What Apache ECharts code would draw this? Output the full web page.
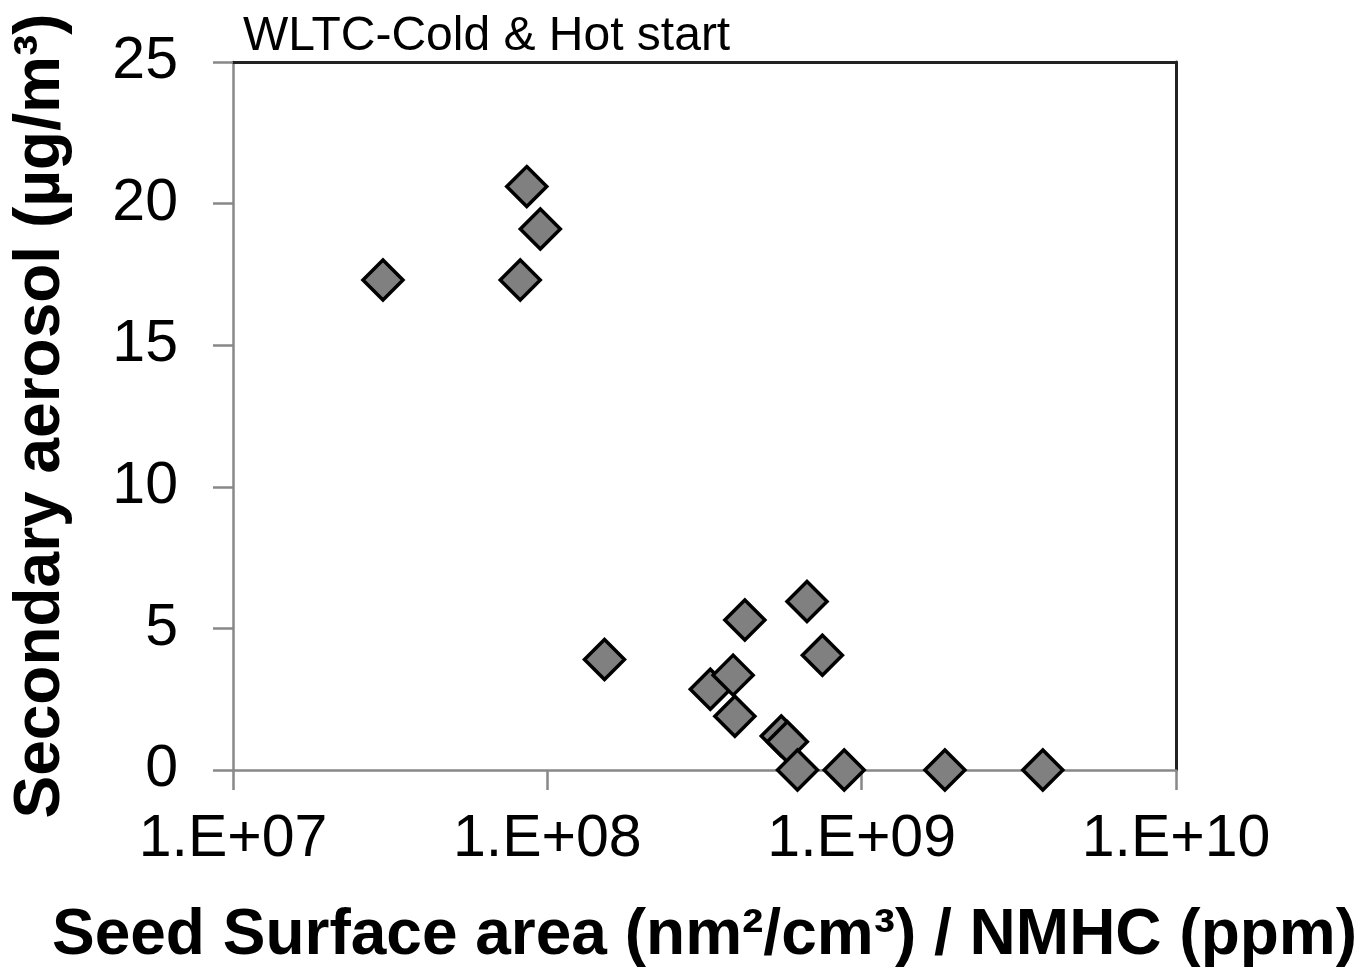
<!DOCTYPE html>
<html>
<head>
<meta charset="utf-8">
<script src="https://cdn.jsdelivr.net/npm/echarts@6/dist/echarts.min.js"></script>
<style>
  html, body { margin: 0; padding: 0; background: #fff; }
  #chart { width: 1364px; height: 970px; }
</style>
</head>
<body>
<div id="chart"></div>
<script>
// seed surface area / NMHC (nm2/cm3 per ppm) and secondary aerosol (ug/m3)
const seedRatio = [3.0e7, 8.6e7, 9.5e7, 8.2e7, 1.52e8, 3.3e8, 3.9e8, 3.95e8, 4.25e8,
  5.55e8, 5.8e8, 6.25e8, 6.7e8, 7.5e8, 8.8e8, 1.84e9, 3.77e9];
const aerosol = [17.3, 20.6, 19.1, 17.3, 3.9, 2.85, 3.35, 1.9, 5.3,
  1.2, 1.0, 0.0, 5.95, 4.05, 0.0, 0.0, 0.0];
const yTicks = [0, 5, 10, 15, 20, 25];

const font = 'Liberation Sans, Arial, sans-serif';
const gray = '#888';

const chart = echarts.init(document.getElementById('chart'));

function sciLabel(v) {
  const e = Math.round(Math.log10(v));
  return '1.E+' + (e < 10 ? '0' + e : e);
}

const option = {
  backgroundColor: '#fff',
  animation: false,
  title: {
    text: 'WLTC-Cold & Hot start',
    left: 238,
    top: 8,
    textStyle: { fontFamily: font, fontSize: 48, fontWeight: 'normal', color: '#000' }
  },
  grid: { left: 233, right: 188, top: 62, bottom: 200, outerBoundsMode: 'none', containLabel: false },
  xAxis: [{
    type: 'log',
    logBase: 10,
    min: 1e7,
    max: 1e10,
    name: 'Seed Surface area (nm²/cm³) / NMHC (ppm)',
    nameLocation: 'middle',
    nameGap: 134,
    nameTextStyle: { fontFamily: font, fontSize: 64, fontWeight: 'bold', color: '#000' },
    axisLine: { onZero: false, lineStyle: { color: gray, width: 2.5 } },
    axisTick: { show: true, length: 20, lineStyle: { color: gray, width: 2.5 } },
    minorTick: { show: false },
    splitLine: { show: false },
    axisLabel: {
      fontFamily: font, fontSize: 59, color: '#000', margin: 40,
      formatter: sciLabel
    }
  }, {
    type: 'log', logBase: 10, min: 1e7, max: 1e10, position: 'top',
    axisLine: { show: true, onZero: false, lineStyle: { color: '#222', width: 3 } },
    axisTick: { show: false }, axisLabel: { show: false }, splitLine: { show: false }
  }],
  yAxis: [{
    type: 'value',
    min: yTicks[0],
    max: yTicks[yTicks.length - 1],
    interval: 5,
    name: 'Secondary aerosol (µg/m³)',
    nameLocation: 'middle',
    nameGap: 160,
    nameTextStyle: { fontFamily: font, fontSize: 64, fontWeight: 'bold', color: '#000' },
    axisLine: { show: true, onZero: false, lineStyle: { color: gray, width: 2.5 } },
    axisTick: { show: true, length: 20, lineStyle: { color: gray, width: 2.5 } },
    splitLine: { show: false },
    axisLabel: { fontFamily: font, fontSize: 59, color: '#000', margin: 55 }
  }, {
    type: 'value', min: 0, max: 25, position: 'right',
    axisLine: { show: true, onZero: false, lineStyle: { color: '#222', width: 3 } },
    axisTick: { show: false }, axisLabel: { show: false }, splitLine: { show: false }
  }],
  series: [{
    type: 'scatter',
    symbol: 'diamond',
    symbolSize: 40,
    itemStyle: { color: '#808080', borderColor: '#000', borderWidth: 3.5, opacity: 1 },
    data: seedRatio.map((x, i) => [x, aerosol[i]]),
    z: 5
  }]
};

chart.setOption(option);
</script>
</body>
</html>
